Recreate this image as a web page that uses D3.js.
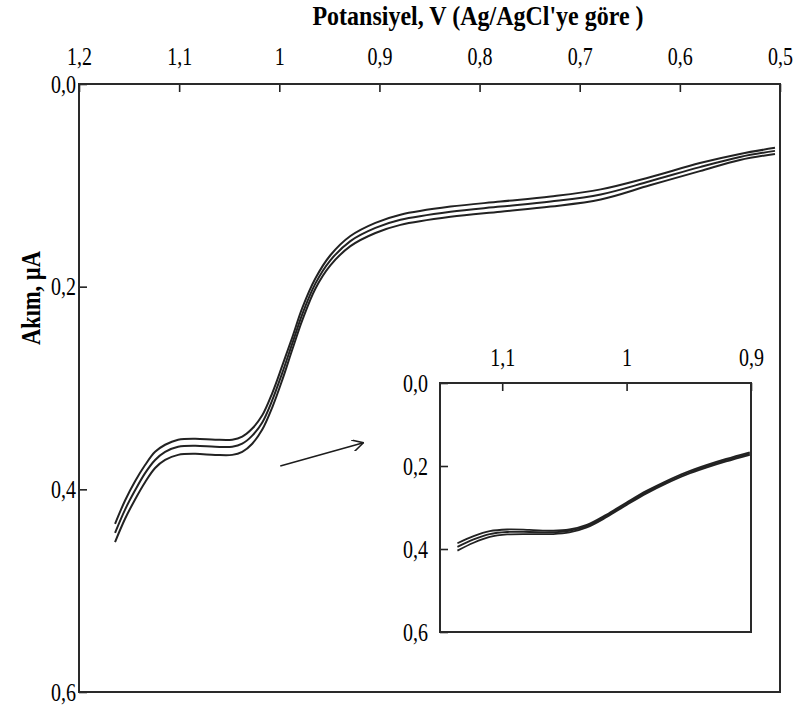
<!DOCTYPE html>
<html>
<head>
<meta charset="utf-8">
<script src="https://cdn.jsdelivr.net/npm/d3@7/dist/d3.min.js"></script>
<style>
  html, body { margin: 0; padding: 0; background: #fff; }
  svg { display: block; }
  text { font-family: "Liberation Serif", "Times New Roman", serif; fill: #000; }
</style>
</head>
<body>
<svg id="chart" width="798" height="711"></svg>
<script>
// ---------- data ----------
const xTicks = [1.2, 1.1, 1.0, 0.9, 0.8, 0.7, 0.6, 0.5];
const yTicks = [0.0, 0.2, 0.4, 0.6];
const insetXTicks = [1.1, 1.0, 0.9];
const insetYTicks = [0.0, 0.2, 0.4, 0.6];

const xTitle = "Potansiyel, V (Ag/AgCl'ye göre )";
const yTitle = "Akım,  µA";

// main curves: potential (V) and current (µA, drawn downward)
const mainPotential = [1.164, 1.154, 1.144, 1.134, 1.124, 1.114, 1.101, 1.084, 1.064, 1.047, 1.037, 1.027, 1.017, 1.007, 0.997, 0.987, 0.977, 0.964, 0.949, 0.929, 0.904, 0.879, 0.829, 0.779, 0.729, 0.679, 0.630, 0.580, 0.540, 0.505];
const mainCurrent1 = [0.434, 0.411, 0.392, 0.376, 0.363, 0.356, 0.351, 0.350, 0.351, 0.351, 0.348, 0.340, 0.327, 0.305, 0.278, 0.250, 0.221, 0.192, 0.169, 0.150, 0.137, 0.129, 0.121, 0.116, 0.111, 0.104, 0.092, 0.078, 0.069, 0.063];
const mainCurrent2 = [0.443, 0.420, 0.401, 0.384, 0.371, 0.363, 0.358, 0.357, 0.358, 0.358, 0.355, 0.347, 0.334, 0.312, 0.285, 0.256, 0.227, 0.197, 0.174, 0.155, 0.142, 0.134, 0.126, 0.121, 0.116, 0.109, 0.096, 0.082, 0.072, 0.066];
const mainCurrent3 = [0.452, 0.429, 0.410, 0.393, 0.379, 0.371, 0.366, 0.365, 0.366, 0.366, 0.363, 0.355, 0.341, 0.319, 0.292, 0.262, 0.233, 0.202, 0.179, 0.160, 0.147, 0.139, 0.131, 0.126, 0.121, 0.114, 0.100, 0.086, 0.075, 0.069];

// inset curves
const insetPotential = [1.136, 1.123, 1.110, 1.096, 1.078, 1.059, 1.046, 1.032, 1.016, 1.000, 0.984, 0.968, 0.952, 0.936, 0.920, 0.901];
const insetCurrent1 = [0.386, 0.369, 0.357, 0.353, 0.354, 0.356, 0.353, 0.342, 0.317, 0.288, 0.260, 0.236, 0.215, 0.198, 0.183, 0.167];
const insetCurrent2 = [0.395, 0.377, 0.364, 0.359, 0.359, 0.360, 0.356, 0.345, 0.320, 0.291, 0.263, 0.239, 0.218, 0.201, 0.186, 0.170];
const insetCurrent3 = [0.404, 0.385, 0.371, 0.365, 0.364, 0.364, 0.360, 0.348, 0.323, 0.294, 0.266, 0.242, 0.221, 0.204, 0.189, 0.173];

// arrow annotation (main-chart data units): [potential, current]
const arrowFrom = [0.999, 0.377];
const arrowTo = [0.916, 0.354];

// ---------- layout ----------
const svg = d3.select("#chart");
const main = { left: 79, right: 780, top: 84, bottom: 692 };
const inset = { left: 440, right: 751, top: 383, bottom: 632 };
const textStretch = 1.25;

const x = d3.scaleLinear().domain([1.2, 0.5]).range([main.left, main.right]);
const y = d3.scaleLinear().domain([0, 0.6]).range([main.top, main.bottom]);
const xi = d3.scaleLinear().domain([1.15, 0.9]).range([inset.left, inset.right]);
const yi = d3.scaleLinear().domain([0, 0.6]).range([inset.top, inset.bottom]);

const fmtX = d => (Math.abs(d - Math.round(d)) < 1e-9 ? String(Math.round(d)) : d3.format(".1f")(d).replace(".", ","));
const fmtY = d => d3.format(".1f")(d).replace(".", ",");

function drawPanel(xs, ys, box, xt, yt, fontSize, labelGapTop, labelGapLeft) {
  const gx = svg.append("g").attr("transform", `translate(0,${box.top})`)
    .call(d3.axisTop(xs).tickValues(xt).tickFormat(fmtX).tickSizeInner(-8).tickSizeOuter(0));
  gx.select(".domain").remove();
  gx.selectAll(".tick line").attr("stroke", "#222").attr("stroke-width", 1.6);
  gx.selectAll(".tick text")
    .attr("y", null).attr("dy", null)
    .attr("text-anchor", "middle")
    .attr("font-size", fontSize)
    .attr("transform", `translate(0,${-labelGapTop}) scale(1,${textStretch})`)
    .attr("fill", "#000");

  const gy = svg.append("g").attr("transform", `translate(${box.left},0)`)
    .call(d3.axisLeft(ys).tickValues(yt).tickFormat(fmtY).tickSizeInner(-8).tickSizeOuter(0));
  gy.select(".domain").remove();
  gy.selectAll(".tick line").attr("stroke", "#222").attr("stroke-width", 1.6);
  gy.selectAll(".tick text")
    .attr("x", null).attr("dy", null)
    .attr("text-anchor", "end")
    .attr("dominant-baseline", "central")
    .attr("font-size", fontSize)
    .attr("transform", `translate(${-labelGapLeft},0) scale(1,${textStretch})`)
    .attr("fill", "#000");

  svg.append("rect")
    .attr("x", box.left).attr("y", box.top)
    .attr("width", box.right - box.left).attr("height", box.bottom - box.top)
    .attr("fill", "none").attr("stroke", "#2a2a2a").attr("stroke-width", 2);
}

function drawCurves(xs, ys, potential, series, width) {
  const line = d3.line()
    .x((d, i) => xs(potential[i]))
    .y(d => ys(d))
    .curve(d3.curveCatmullRom.alpha(0.5));
  series.forEach(s => {
    svg.append("path").datum(s)
      .attr("d", line)
      .attr("fill", "none")
      .attr("stroke", "#222")
      .attr("stroke-width", width);
  });
}

// main panel
drawPanel(x, y, main, xTicks, yTicks, 20, 19, 3);
drawCurves(x, y, mainPotential, [mainCurrent1, mainCurrent2, mainCurrent3], 2);

// arrow
svg.append("defs").append("marker")
  .attr("id", "head").attr("viewBox", "0 0 12 12")
  .attr("refX", 11).attr("refY", 6)
  .attr("markerWidth", 12).attr("markerHeight", 12)
  .attr("markerUnits", "userSpaceOnUse")
  .attr("orient", "auto")
  .append("path").attr("d", "M0,0 L11,6 L0,12")
  .attr("fill", "none").attr("stroke", "#1c1c1c").attr("stroke-width", 1.6);
svg.append("line")
  .attr("x1", x(arrowFrom[0])).attr("y1", y(arrowFrom[1]))
  .attr("x2", x(arrowTo[0])).attr("y2", y(arrowTo[1]))
  .attr("stroke", "#1c1c1c").attr("stroke-width", 1.6)
  .attr("marker-end", "url(#head)");

// inset panel
svg.append("rect")
  .attr("x", inset.left).attr("y", inset.top)
  .attr("width", inset.right - inset.left).attr("height", inset.bottom - inset.top)
  .attr("fill", "#fff");
drawPanel(xi, yi, inset, insetXTicks, insetYTicks, 20, 17, 12);
drawCurves(xi, yi, insetPotential, [insetCurrent1, insetCurrent2, insetCurrent3], 1.8);

// titles
svg.append("text")
  .attr("transform", `translate(478,25) scale(1,1.1)`)
  .attr("text-anchor", "middle")
  .attr("font-size", 24).attr("font-weight", "bold")
  .text(xTitle);

svg.append("text")
  .attr("transform", `translate(40,298) scale(1,0.8) rotate(-90)`)
  .attr("text-anchor", "middle")
  .attr("font-size", 28).attr("font-weight", "bold")
  .text(yTitle);
</script>
</body>
</html>
